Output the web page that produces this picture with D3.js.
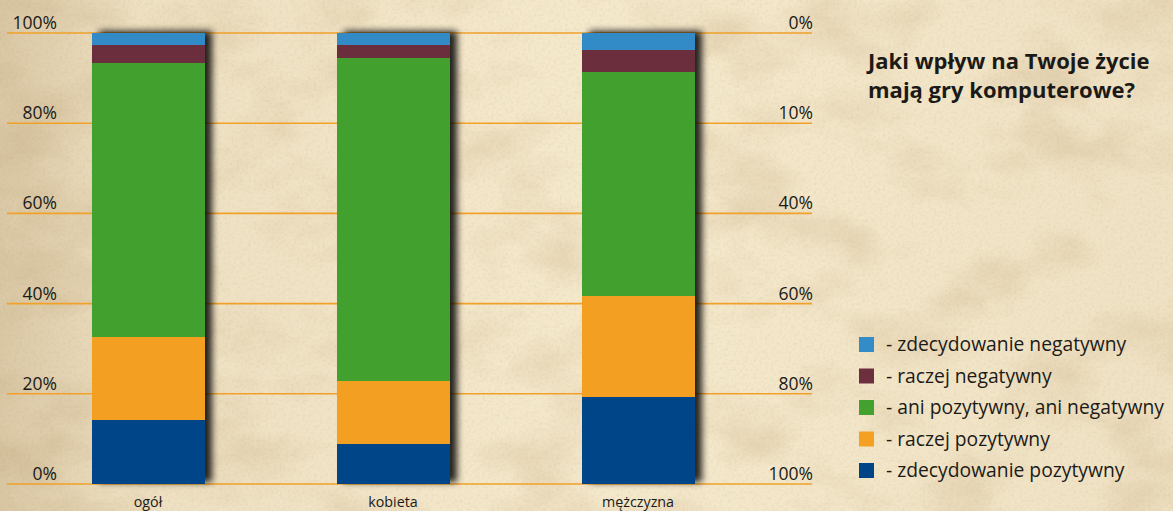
<!DOCTYPE html>
<html lang="pl">
<head>
<meta charset="utf-8">
<script src="https://cdn.jsdelivr.net/npm/d3@7"></script>
<style>
  html, body { margin: 0; padding: 0; background: #f2e5c6; }
  svg { display: block; }
  text { font-family: "Open Sans", "Noto Sans", sans-serif; fill: #1c1a17; }
</style>
</head>
<body>
<svg id="chart" width="1173" height="511"></svg>
<script>
// Categories and stacked shares (percent), bottom to top
const categories = ["ogół", "kobieta", "mężczyzna"];
const seriesNames = [
  "zdecydowanie pozytywny",
  "raczej pozytywny",
  "ani pozytywny, ani negatywny",
  "raczej negatywny",
  "zdecydowanie negatywny"
];
const zdecydowaniePozytywny = [14.2, 8.9, 19.4];
const raczejPozytywny = [18.3, 14.0, 22.2];
const aniPozytywnyAniNegatywny = [60.8, 71.6, 49.7];
const raczejNegatywny = [4.0, 2.9, 5.0];
const zdecydowanieNegatywny = [2.7, 2.6, 3.7];
const seriesColors = ["#004488", "#f3a023", "#43a12f", "#6b2f3e", "#338bc7"];

const leftTicks = [0, 20, 40, 60, 80, 100];
const rightTickLabels = ["100%", "80%", "60%", "40%", "10%", "0%"];
const titleLines = ["Jaki wpływ na Twoje życie", "mają gry komputerowe?"];

const W = 1173, H = 511;
const svg = d3.select("#chart");
const defs = svg.append("defs");

// Parchment background
const paper = defs.append("filter").attr("id", "paper")
  .attr("x", 0).attr("y", 0).attr("width", "100%").attr("height", "100%");
paper.append("feTurbulence").attr("type", "fractalNoise")
  .attr("baseFrequency", "0.01 0.016").attr("numOctaves", 5).attr("seed", 7).attr("result", "n");
paper.append("feColorMatrix").attr("in", "n").attr("type", "matrix")
  .attr("values", "0 0 0 0 0.66  0 0 0 0 0.52  0 0 0 0 0.32  1.1 0 0 0 -0.5");

const grain = defs.append("filter").attr("id", "grain")
  .attr("x", 0).attr("y", 0).attr("width", "100%").attr("height", "100%");
grain.append("feTurbulence").attr("type", "fractalNoise")
  .attr("baseFrequency", "0.35").attr("numOctaves", 2).attr("seed", 2).attr("result", "g");
grain.append("feColorMatrix").attr("in", "g").attr("type", "matrix")
  .attr("values", "0 0 0 0 0.55  0 0 0 0 0.42  0 0 0 0 0.26  0.9 0 0 0 -0.4");

const vign = defs.append("linearGradient").attr("id", "vign")
  .attr("x1", 0).attr("x2", 1).attr("y1", 0).attr("y2", 0);
vign.append("stop").attr("offset", "0").attr("stop-color", "#9c7c4c").attr("stop-opacity", 0.3);
vign.append("stop").attr("offset", "0.12").attr("stop-color", "#9c7c4c").attr("stop-opacity", 0.08);
vign.append("stop").attr("offset", "0.5").attr("stop-color", "#9c7c4c").attr("stop-opacity", 0);
vign.append("stop").attr("offset", "1").attr("stop-color", "#9c7c4c").attr("stop-opacity", 0.06);

svg.append("rect").attr("width", W).attr("height", H).attr("fill", "#f5e9cc");
svg.append("rect").attr("width", W).attr("height", H).attr("filter", "url(#paper)");
svg.append("rect").attr("width", W).attr("height", H).attr("filter", "url(#grain)").attr("opacity", 0.45);
svg.append("rect").attr("width", W).attr("height", H).attr("fill", "url(#vign)");

// Bar shadow
const shadow = defs.append("filter").attr("id", "shadow")
  .attr("x", "-20%").attr("y", "-10%").attr("width", "150%").attr("height", "120%");
shadow.append("feGaussianBlur").attr("in", "SourceAlpha").attr("stdDeviation", 3.5).attr("result", "b");
shadow.append("feOffset").attr("in", "b").attr("dx", 7).attr("dy", -2).attr("result", "o");
shadow.append("feComponentTransfer").attr("in", "o").attr("result", "s")
  .append("feFuncA").attr("type", "linear").attr("slope", 0.85);
const merge = shadow.append("feMerge");
merge.append("feMergeNode").attr("in", "s");
merge.append("feMergeNode").attr("in", "SourceGraphic");

// Scales
const y = d3.scaleLinear().domain([0, 100]).range([484, 33]);
const x = d3.scaleBand().domain(categories).range([25.5, 760.5])
  .paddingInner(132 / 245).paddingOuter(66 / 245);

// Gridlines
svg.append("g").selectAll("line").data(leftTicks).join("line")
  .attr("x1", 7).attr("x2", 812)
  .attr("y1", d => y(d)).attr("y2", d => y(d))
  .attr("stroke", "#f1a12a").attr("stroke-width", 1.6);

// Left axis labels
const leftAxis = svg.append("g")
  .call(d3.axisLeft(y).tickValues(leftTicks).tickSize(0).tickFormat(d => d + "%"));
leftAxis.select(".domain").remove();
leftAxis.selectAll("text")
  .attr("x", 57).attr("dy", -4.5).attr("text-anchor", "end")
  .style("font-size", "17.5px").style("font-family", '"Open Sans", sans-serif').attr("fill", "#1c1a17");

// Right axis labels
const rightAxis = svg.append("g")
  .call(d3.axisRight(y).tickValues(leftTicks).tickSize(0).tickFormat((d, i) => rightTickLabels[i]));
rightAxis.select(".domain").remove();
rightAxis.selectAll("text")
  .attr("x", 813).attr("dy", -4.5).attr("text-anchor", "end")
  .style("font-size", "17.5px").style("font-family", '"Open Sans", sans-serif').attr("fill", "#1c1a17");

// Stacked bars
const rows = categories.map((c, i) => ({
  cat: c,
  [seriesNames[0]]: zdecydowaniePozytywny[i],
  [seriesNames[1]]: raczejPozytywny[i],
  [seriesNames[2]]: aniPozytywnyAniNegatywny[i],
  [seriesNames[3]]: raczejNegatywny[i],
  [seriesNames[4]]: zdecydowanieNegatywny[i]
}));
const stacked = d3.stack().keys(seriesNames)(rows);
const color = d3.scaleOrdinal().domain(seriesNames).range(seriesColors);

const barGroups = svg.append("g").selectAll("g").data(categories).join("g")
  .attr("filter", "url(#shadow)");
barGroups.selectAll("rect")
  .data(cat => stacked.map(s => ({ key: s.key, seg: s.find(d => d.data.cat === cat) })))
  .join("rect")
  .attr("x", d => x(d.seg.data.cat))
  .attr("width", x.bandwidth())
  .attr("y", d => y(d.seg[1]))
  .attr("height", d => y(d.seg[0]) - y(d.seg[1]))
  .attr("fill", d => color(d.key))
  .attr("shape-rendering", "crispEdges");

// Category labels
svg.append("g").selectAll("text").data(categories).join("text")
  .attr("x", d => x(d) + x.bandwidth() / 2)
  .attr("y", 507)
  .attr("text-anchor", "middle")
  .style("font-size", "14.3px")
  .text(d => d);

// Title, two separate lines
svg.append("g").selectAll("text").data(titleLines).join("text")
  .attr("x", 868)
  .attr("y", (d, i) => 69 + i * 29)
  .style("font-size", "22px").style("font-weight", 700)
  .text(d => d);

// Legend (top entry is the top of the stack)
const legendItems = seriesNames.slice().reverse();
const legend = svg.append("g").selectAll("g").data(legendItems).join("g")
  .attr("transform", (d, i) => `translate(859, ${337 + i * 31.5})`);
legend.append("rect").attr("width", 15).attr("height", 15).attr("fill", d => color(d));
legend.append("text").attr("x", 27).attr("y", 14)
  .style("font-size", "19.3px")
  .text(d => "- " + d);
</script>
</body>
</html>
